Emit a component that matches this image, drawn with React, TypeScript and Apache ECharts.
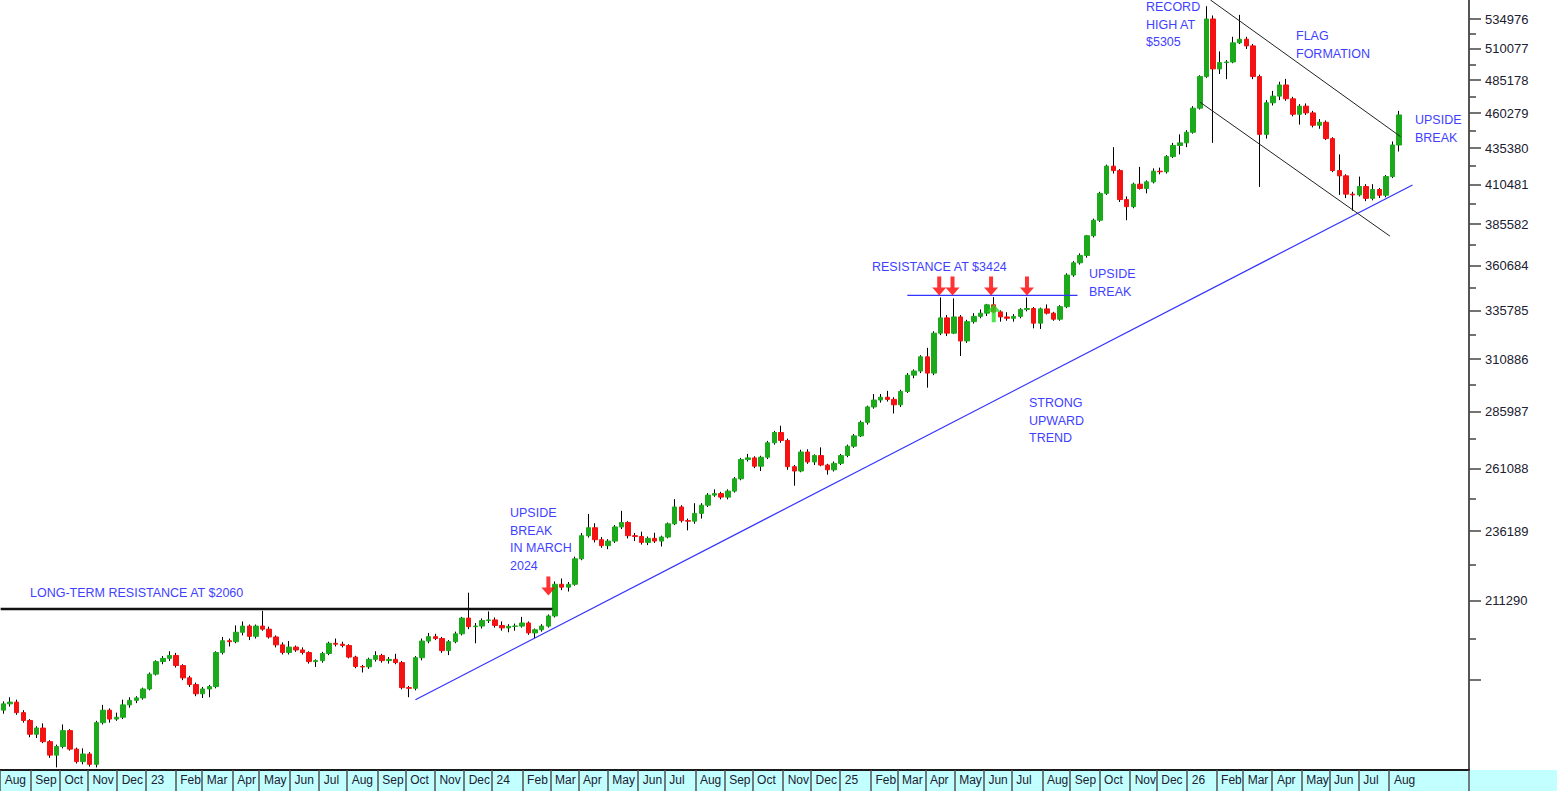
import React, { useEffect, useRef } from "react";
import * as echarts from "echarts";

// ---------------- data ----------------
// x axis: one slot per weekday, starting on the Monday of the first weekly candle
const FIRST_DAY = "2022-08-01";
const WEEKDAY_SLOTS = 1105;
const LAST_LABELLED_MONTH = "2026-08";
const MONTH_NAMES = ["Jan", "Feb", "Mar", "Apr", "May", "Jun", "Jul", "Aug", "Sep", "Oct", "Nov", "Dec"];

// weekly candles, one per week from the week of 1 Aug 2022: [open, high, low, close] in US$
const weeklyOHLC: number[][] = [
  [1775, 1800, 1765, 1793], [1793, 1812, 1785, 1798], [1798, 1805, 1762, 1768], [1768, 1775, 1740, 1746],
  [1746, 1750, 1700, 1708], [1708, 1730, 1698, 1725], [1725, 1738, 1684, 1688], [1688, 1692, 1645, 1652],
  [1652, 1680, 1620, 1675], [1675, 1735, 1670, 1718], [1718, 1722, 1664, 1668], [1668, 1672, 1630, 1635],
  [1635, 1670, 1628, 1655], [1655, 1660, 1622, 1628], [1628, 1745, 1620, 1740], [1740, 1790, 1735, 1775],
  [1775, 1780, 1740, 1750], [1750, 1768, 1745, 1755], [1755, 1805, 1750, 1790], [1790, 1812, 1782, 1803],
  [1803, 1815, 1795, 1810], [1810, 1840, 1805, 1836], [1836, 1885, 1832, 1880], [1880, 1922, 1876, 1918],
  [1918, 1935, 1910, 1928], [1928, 1950, 1920, 1937], [1937, 1945, 1900, 1906], [1906, 1910, 1862, 1869],
  [1869, 1875, 1842, 1849], [1849, 1855, 1815, 1822], [1822, 1842, 1810, 1836], [1836, 1848, 1812, 1843],
  [1843, 1950, 1838, 1946], [1946, 1995, 1940, 1983], [1983, 1990, 1965, 1980], [1980, 2032, 1975, 2010],
  [2010, 2045, 2000, 2030], [2030, 2035, 1985, 1997], [1997, 2035, 1990, 2030], [2030, 2080, 2015, 2020],
  [2020, 2028, 1990, 1995], [1995, 2000, 1962, 1970], [1970, 1978, 1940, 1946], [1946, 1982, 1940, 1963],
  [1963, 1968, 1948, 1954], [1954, 1962, 1940, 1946], [1946, 1950, 1912, 1918], [1918, 1925, 1902, 1921],
  [1921, 1948, 1915, 1943], [1943, 1980, 1938, 1975], [1975, 1990, 1965, 1972], [1972, 1980, 1962, 1968],
  [1968, 1972, 1928, 1932], [1932, 1936, 1898, 1903], [1903, 1908, 1885, 1902], [1902, 1930, 1896, 1925],
  [1925, 1950, 1918, 1937], [1937, 1942, 1915, 1921], [1921, 1932, 1912, 1925], [1925, 1942, 1910, 1915],
  [1915, 1920, 1835, 1840], [1840, 1845, 1812, 1838], [1838, 1935, 1832, 1930], [1930, 1990, 1922, 1982],
  [1982, 2008, 1975, 1996], [1996, 2005, 1985, 1990], [1990, 1995, 1945, 1952], [1952, 1985, 1938, 1980],
  [1980, 2012, 1975, 2005], [2005, 2060, 2000, 2056], [2056, 2141, 2020, 2028], [2028, 2040, 1975, 2030],
  [2030, 2055, 2022, 2048], [2048, 2078, 2040, 2050], [2050, 2058, 2025, 2032], [2032, 2045, 2015, 2024],
  [2024, 2036, 2010, 2029], [2029, 2038, 2015, 2030], [2030, 2060, 2025, 2040], [2040, 2045, 2002, 2008],
  [2008, 2022, 1992, 2018], [2018, 2036, 2012, 2030], [2030, 2068, 2025, 2063], [2063, 2180, 2058, 2170],
  [2170, 2190, 2150, 2160], [2160, 2178, 2145, 2170], [2170, 2268, 2165, 2260], [2260, 2355, 2255, 2345],
  [2345, 2428, 2338, 2375], [2375, 2392, 2320, 2330], [2330, 2340, 2300, 2308], [2308, 2332, 2295, 2325],
  [2325, 2385, 2318, 2378], [2378, 2440, 2370, 2395], [2395, 2400, 2335, 2345], [2345, 2355, 2325, 2342],
  [2342, 2360, 2312, 2320], [2320, 2342, 2310, 2335], [2335, 2356, 2318, 2325], [2325, 2345, 2305, 2340],
  [2340, 2395, 2335, 2390], [2390, 2486, 2385, 2455], [2455, 2462, 2395, 2402], [2402, 2410, 2365, 2400],
  [2400, 2470, 2390, 2430], [2430, 2470, 2410, 2462], [2462, 2510, 2455, 2502], [2502, 2525, 2495, 2508],
  [2508, 2515, 2485, 2494], [2494, 2525, 2485, 2518], [2518, 2575, 2512, 2568], [2568, 2655, 2562, 2648],
  [2648, 2672, 2640, 2655], [2655, 2662, 2612, 2620], [2620, 2664, 2600, 2658], [2658, 2728, 2650, 2720],
  [2720, 2772, 2712, 2765], [2765, 2795, 2720, 2730], [2730, 2738, 2605, 2618], [2618, 2625, 2540, 2600],
  [2600, 2690, 2595, 2680], [2680, 2692, 2630, 2638], [2638, 2670, 2625, 2665], [2665, 2700, 2620, 2625],
  [2625, 2630, 2585, 2605], [2605, 2640, 2598, 2632], [2632, 2672, 2625, 2665], [2665, 2712, 2658, 2705],
  [2705, 2758, 2698, 2750], [2750, 2818, 2745, 2810], [2810, 2886, 2800, 2880], [2880, 2940, 2872, 2912],
  [2912, 2940, 2900, 2925], [2925, 2955, 2905, 2915], [2915, 2925, 2850, 2890], [2890, 2960, 2880, 2952],
  [2952, 3040, 2945, 3030], [3030, 3058, 3015, 3050], [3050, 3128, 3040, 3120], [3120, 3165, 2970, 3040],
  [3040, 3250, 3030, 3240], [3240, 3430, 3230, 3320], [3320, 3335, 3225, 3240], [3240, 3425, 3235, 3325],
  [3325, 3335, 3124, 3200], [3200, 3310, 3190, 3300], [3300, 3345, 3290, 3328], [3328, 3365, 3318, 3345],
  [3345, 3395, 3330, 3390], [3390, 3432, 3345, 3352], [3352, 3360, 3300, 3325], [3325, 3350, 3305, 3318],
  [3318, 3340, 3300, 3328], [3328, 3372, 3318, 3365], [3365, 3430, 3355, 3370], [3370, 3378, 3265, 3292],
  [3292, 3375, 3262, 3368], [3368, 3392, 3338, 3345], [3345, 3352, 3305, 3313], [3313, 3388, 3305, 3380],
  [3380, 3565, 3372, 3555], [3555, 3635, 3545, 3625], [3625, 3680, 3615, 3668], [3668, 3790, 3655, 3785],
  [3785, 3890, 3775, 3880], [3880, 4060, 3870, 4050], [4050, 4240, 4040, 4230], [4230, 4360, 4180, 4200],
  [4200, 4210, 3995, 4010], [4010, 4030, 3880, 3965], [3965, 4120, 3955, 4110], [4110, 4225, 4075, 4082],
  [4082, 4135, 4050, 4125], [4125, 4215, 4115, 4196], [4196, 4220, 4175, 4192], [4192, 4305, 4180, 4295],
  [4295, 4390, 4285, 4372], [4372, 4450, 4310, 4390], [4390, 4480, 4360, 4465], [4465, 4655, 4455, 4640],
  [4640, 4890, 4630, 4880], [4880, 5460, 4870, 5350], [5350, 5380, 4390, 4940], [4940, 5080, 4900, 4990],
  [4990, 5010, 4860, 4995], [4995, 5200, 4985, 5150], [5150, 5385, 5140, 5180], [5180, 5200, 5100, 5125],
  [5125, 5140, 4860, 4880], [4880, 4895, 4092, 4450], [4450, 4700, 4420, 4680], [4680, 4770, 4660, 4730],
  [4730, 4840, 4700, 4815], [4815, 4862, 4695, 4710], [4710, 4725, 4580, 4595], [4595, 4670, 4520, 4655],
  [4655, 4675, 4590, 4605], [4605, 4620, 4500, 4515], [4515, 4560, 4490, 4537], [4537, 4550, 4410, 4420],
  [4420, 4430, 4190, 4200], [4200, 4310, 4040, 4165], [4165, 4175, 4020, 4045], [4045, 4060, 3940, 4040],
  [4040, 4160, 4030, 4095], [4095, 4110, 4000, 4018], [4018, 4110, 4005, 4075], [4075, 4085, 4020, 4038],
  [4038, 4170, 4025, 4160], [4160, 4400, 4150, 4375], [4375, 4620, 4330, 4590],
];

// y axis (cents, log scale)
const Y_MIN = 161330;
const Y_MAX = 551450;
const yMajorTicks = [186391, 211290, 236189, 261088, 285987, 310886, 335785, 360684, 385582, 410481, 435380, 460279, 485178, 510077, 534976];
const yLabels = [211290, 236189, 261088, 285987, 310886, 335785, 360684, 385582, 410481, 435380, 460279, 485178, 510077, 534976];
const yMinorTicks = [198841, 223740, 248639, 273538, 298437, 323336, 348235, 373133, 398032, 422931, 447830, 472729, 497628, 522527];

// annotation lines and arrows: [date, price in US$]
const resistance2060: [string, number][] = [["2022-08-01", 2086], ["2024-03-04", 2086]];
const upwardTrend: [string, number][] = [["2023-10-11", 1805], ["2026-08-26", 4105]];
const resistance3424: [string, number][] = [["2025-03-12", 3441], ["2025-09-08", 3441]];
const flagUpper: [string, number][] = [["2026-01-26", 5515], ["2026-08-13", 4434]];
const flagLower: [string, number][] = [["2026-01-14", 4686], ["2026-08-03", 3783]];
const redArrows: [string, number][] = [
  ["2024-02-28", 2164], ["2025-04-15", 3493], ["2025-04-29", 3493], ["2025-06-09", 3493], ["2025-07-16", 3493],
];
const greenArrows: [string, number][] = [["2025-06-11", 3345]];

const notes: { text: string; x: number; y: number }[] = [
  { text: "LONG-TERM RESISTANCE AT $2060", x: 30, y: 593 },
  { text: "UPSIDE\nBREAK\nIN MARCH\n2024", x: 510, y: 513 },
  { text: "RESISTANCE AT $3424", x: 872, y: 267 },
  { text: "UPSIDE\nBREAK", x: 1089, y: 274 },
  { text: "STRONG\nUPWARD\nTREND", x: 1029, y: 403 },
  { text: "RECORD\nHIGH AT\n$5305", x: 1146, y: 7 },
  { text: "FLAG\nFORMATION", x: 1296, y: 36 },
  { text: "UPSIDE\nBREAK", x: 1415, y: 120 },
];

// ---------------- build ----------------
function buildDays(): string[] {
  const out: string[] = [];
  const [y, m, d] = FIRST_DAY.split("-").map(Number);
  let t = Date.UTC(y, m - 1, d);
  while (out.length < WEEKDAY_SLOTS) {
    const dt = new Date(t);
    const wd = dt.getUTCDay();
    if (wd !== 0 && wd !== 6) out.push(dt.toISOString().slice(0, 10));
    t += 86400000;
  }
  return out;
}

const ARROW_DOWN = "path://M5,0 L9,0 L9,11 L14,11 L7,19 L0,11 L5,11 Z";
const ARROW_UP = "path://M7,0 L14,8 L9,8 L9,19 L5,19 L5,8 L0,8 Z";
const FONT = "'Liberation Sans', Arial, sans-serif";
const BLUE_TEXT = "#3f3fff";

function buildOption() {
  const days = buildDays();
  const indexOf = new Map<string, number>();
  days.forEach((d, i) => indexOf.set(d, i));
  const monthStarts = new Set<number>();
  days.forEach((d, i) => {
    const ym = d.slice(0, 7);
    if ((i === 0 || ym !== days[i - 1].slice(0, 7)) && ym <= LAST_LABELLED_MONTH) monthStarts.add(i);
  });

  const wickData: any[] = days.map(() => "-");
  const bodyData: any[] = days.map(() => "-");
  weeklyOHLC.forEach(([o, h, l, c], k) => {
    const i = 5 * k + 2;
    wickData[i] = [o * 100, c * 100, l * 100, h * 100];
    bodyData[i] = [o * 100, c * 100, Math.min(o, c) * 100, Math.max(o, c) * 100];
  });

  const pts = (arr: [string, number][]) => arr.map(([d, v]) => [indexOf.get(d) ?? 0, v * 100]);
  const line = (arr: [string, number][], color: string, width: number, z: number) => ({
    type: "line",
    data: pts(arr),
    symbol: "none",
    silent: true,
    z,
    lineStyle: { color, width },
  });

  return {
    animation: false,
    grid: { left: 0, right: 88, top: 0, bottom: 21, containLabel: false },
    xAxis: {
      type: "category",
      data: days,
      boundaryGap: true,
      axisLine: { show: true, lineStyle: { color: "#1a1a1a", width: 2 } },
      axisTick: {
        show: true,
        interval: (i: number) => monthStarts.has(i),
        length: 21,
        lineStyle: { color: "#505050", width: 1.5 },
      },
      axisLabel: {
        interval: (i: number) => monthStarts.has(i),
        formatter: (v: string) => {
          const m = Number(v.slice(5, 7));
          return m === 1 ? v.slice(2, 4) : MONTH_NAMES[m - 1];
        },
        align: "left",
        margin: 4,
        padding: [0, 0, 0, 4],
        fontSize: 12,
        fontFamily: FONT,
        color: "#202030",
      },
      splitLine: { show: false },
    },
    yAxis: [
      {
        type: "log",
        position: "right",
        min: Y_MIN,
        max: Y_MAX,
        axisLine: { show: true, lineStyle: { color: "#555", width: 2 } },
        axisTick: { show: true, customValues: yMajorTicks, length: 12, lineStyle: { color: "#444", width: 1.5 } },
        axisLabel: {
          customValues: yLabels,
          margin: 16,
          fontSize: 13,
          fontFamily: FONT,
          color: "#202030",
          formatter: (v: number) => String(Math.round(v)),
        },
        splitLine: { show: false },
      },
      {
        type: "log",
        position: "right",
        min: Y_MIN,
        max: Y_MAX,
        axisLine: { show: false },
        axisTick: { show: true, customValues: yMinorTicks, length: 7, lineStyle: { color: "#444", width: 1.5 } },
        axisLabel: { show: false },
        splitLine: { show: false },
      },
    ],
    series: [
      line(upwardTrend, "#3333ff", 1.2, 1),
      {
        type: "candlestick",
        name: "range",
        data: wickData,
        large: false,
        barWidth: 1,
        silent: true,
        z: 2,
        itemStyle: { color: "#000", color0: "#000", borderColor: "#000", borderColor0: "#000", borderWidth: 1 },
      },
      {
        type: "candlestick",
        name: "body",
        data: bodyData,
        large: false,
        barWidth: 5,
        silent: true,
        z: 3,
        itemStyle: {
          color: "#1caa1c",
          color0: "#f41212",
          borderColor: "#1caa1c",
          borderColor0: "#f41212",
          borderWidth: 1,
        },
      },
      line(resistance2060, "#111", 2.5, 4),
      line(resistance3424, "#3333ff", 1.2, 4),
      line(flagUpper, "#222", 1, 4),
      line(flagLower, "#222", 1, 4),
      {
        type: "scatter",
        data: pts(redArrows),
        symbol: ARROW_DOWN,
        symbolSize: [14, 19],
        silent: true,
        z: 6,
        itemStyle: { color: "#ff0000" },
      },
      {
        type: "scatter",
        data: pts(greenArrows),
        symbol: ARROW_UP,
        symbolSize: [14, 18],
        silent: true,
        z: 6,
        itemStyle: { color: "#22dd22" },
      },
    ],
    graphic: notes.map((n) => ({
      type: "text",
      x: n.x,
      y: n.y - 8.75,
      silent: true,
      z: 10,
      style: {
        text: n.text,
        fill: BLUE_TEXT,
        fontSize: 12.5,
        fontFamily: FONT,
        lineHeight: 17.5,
        align: "left",
        verticalAlign: "top",
      },
    })),
  };
}

export default function App() {
  const ref = useRef<HTMLDivElement>(null);
  useEffect(() => {
    if (!ref.current) return;
    const chart = echarts.init(ref.current, undefined, { renderer: "svg" });
    chart.setOption(buildOption() as any);
    return () => chart.dispose();
  }, []);
  return (
    <div style={{ position: "fixed", left: 0, top: 0, width: 1557, height: 791, background: "#fff", overflow: "hidden" }}>
      <div style={{ position: "absolute", left: 0, top: 770, width: 1557, height: 21, background: "#c2ffff" }} />
      <div ref={ref} style={{ position: "absolute", left: 0, top: 0, width: 1557, height: 791 }} />
    </div>
  );
}
